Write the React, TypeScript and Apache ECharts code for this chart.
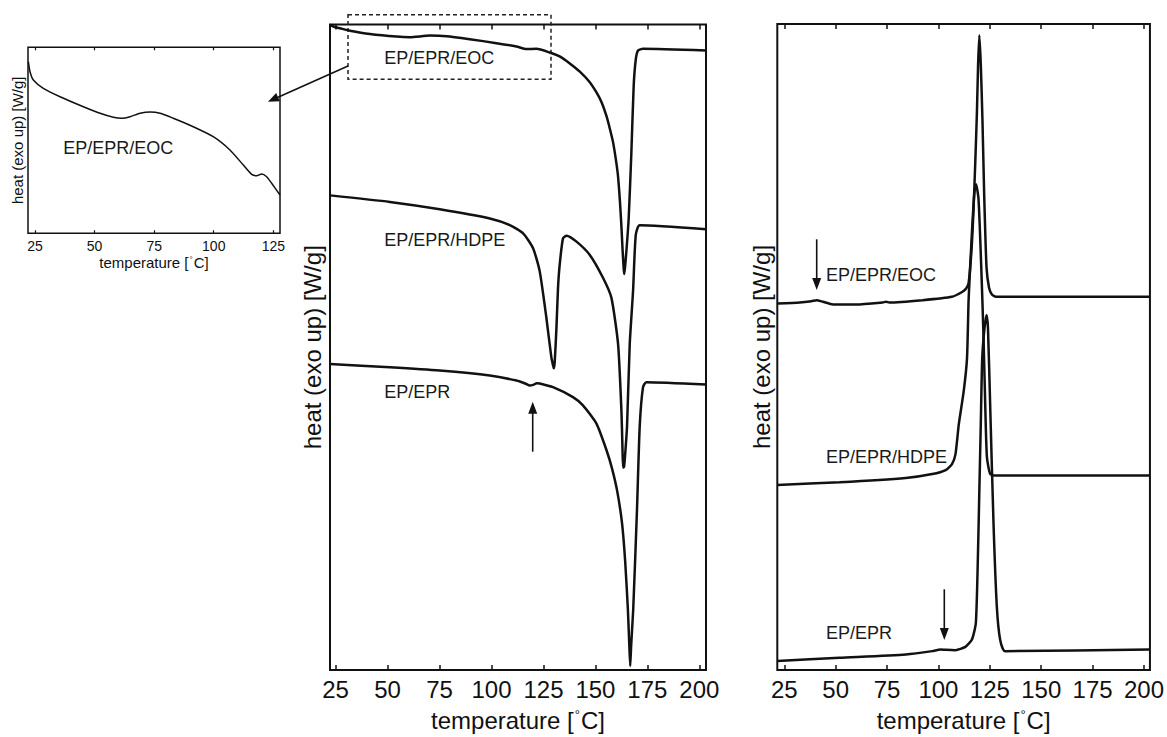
import React, { useEffect, useRef } from "react";
import * as echarts from "echarts";

const FONT = "'Liberation Sans', Arial, Helvetica, sans-serif";
const INK = "#111";

// ---------- tick labels ----------
const insetTicks = [25, 50, 75, 100, 125];
const mainTicks = [25, 50, 75, 100, 125, 150, 175, 200];

// ---------- inset: EP/EPR/EOC detail (heating) ----------
const insetT = [22.2, 22.9, 24.3, 28.5, 35.5, 45.3, 52.3, 57.9, 61.4, 64.9, 69.1, 73.3, 77.5, 83.0, 91.4, 99.8, 106.8, 112.4, 115.9, 118.0, 120.1, 122.2, 124.3, 127.8];
const insetV = [171.6, 161.6, 153.3, 145, 136.6, 126.6, 120, 116, 115, 116.6, 120, 121.3, 120, 115, 106.6, 96.6, 83.3, 68.3, 59, 57.6, 59.3, 56.6, 50, 38.3];

// ---------- middle panel: heating (melting) ----------
const midEocT = [22.3, 24.5, 27.1, 31.9, 41.5, 54.3, 60.7, 70.3, 78.4, 89.5, 102.4, 112.0, 116.8, 121.6, 128.0, 132.8, 137.5, 142.5, 147.0, 150.5, 153.0, 155.3, 157.0, 158.5, 160.0, 160.9, 161.8, 162.5, 163.1, 163.5, 163.8, 164.2, 164.9, 166.0, 167.3, 168.4, 169.4, 170.5, 172.9, 203.2];
const midEocV = [650, 648, 646.7, 644.3, 641, 638.3, 637.7, 639.3, 638.7, 635.7, 631.7, 628.3, 625.7, 626, 622.3, 618.3, 611.5, 603, 593, 582, 572, 558.3, 545, 531.7, 512, 497, 472, 447, 422, 408, 399, 405, 422, 455, 521.7, 588.3, 615, 624.3, 626, 624.2];

const midHdpeT = [22.3, 51.1, 75.1, 99.2, 108.8, 115.2, 120.0, 123.2, 126.4, 128.8, 129.6, 129.95, 130.4, 131.25, 132.0, 132.8, 134.4, 136.1, 140.9, 147.3, 153.7, 157.7, 160.9, 162.5, 163.0, 163.3, 163.8, 164.4, 165.2, 166.5, 168.1, 169.4, 171.3, 203.2];
const midHdpeV = [478.3, 471.7, 464.3, 455, 448.3, 440, 425, 401.7, 355, 315, 307, 304, 310, 345, 385, 408.3, 435, 437.7, 431.7, 418.3, 395, 375, 328.3, 261.7, 225, 204, 205, 220, 245, 328.3, 381.7, 438.3, 448.3, 444.2];

const midEprT = [22.3, 51.1, 75.1, 99.2, 112.0, 116.5, 118.4, 120.0, 121.8, 123.2, 129.6, 139.2, 144.0, 150.5, 155.3, 158.0, 160.5, 162.8, 164.3, 165.6, 166.3, 166.75, 167.2, 168.2, 170.0, 171.3, 172.9, 174.5, 203.2];
const midEprV = [308.3, 305, 301.7, 296.7, 291.7, 288.5, 286.7, 287.3, 289, 288.8, 285, 275, 266.7, 248.3, 221.7, 203, 180, 148, 110, 61.7, 25, 4, 25, 61.7, 161.7, 245, 285, 290, 287.6];

// ---------- right panel: cooling (crystallisation) ----------
const rEocT = [21.6, 32.6, 38.2, 40.7, 43.8, 48.7, 60.0, 72.8, 74.5, 76.1, 92.2, 106.6, 111.5, 113.5, 114.7, 116.0, 117.0, 117.9, 118.7, 119.3, 119.9, 120.6, 121.4, 122.3, 123.4, 124.6, 126.0, 128.0, 202.9];
const rEocV = [369, 370, 371.3, 372.3, 370.7, 368, 368, 370, 370.7, 370, 372.3, 375.7, 380.5, 384, 390, 420, 460, 510, 560, 610, 639, 610, 555, 475, 405, 385, 378, 375.7, 375.7];

const rHdpeT = [21.6, 51.9, 84.1, 97.0, 103.5, 106.6, 108.3, 109.9, 112.3, 113.9, 114.7, 116.3, 117.5, 118.3, 119.5, 120.8, 121.9, 122.8, 123.6, 125.2, 127.6, 202.9];
const rHdpeV = [186.3, 189, 193.3, 197.3, 201.3, 207.3, 217.3, 247.3, 280.7, 314, 374, 440.7, 480.7, 489, 474, 407.3, 338, 264, 214, 197.3, 195.7, 195.7];

const rEprT = [21.6, 51.9, 84.1, 97.0, 101.0, 103.5, 108.3, 113.1, 116.3, 118.2, 119.2, 119.9, 120.6, 121.3, 122.4, 123.4, 124.1, 125.2, 126.8, 128.4, 130.0, 132.4, 202.9];
const rEprV = [9, 12.3, 15.7, 19, 20.7, 20.3, 20, 23.3, 30.7, 47.3, 114, 180.7, 247.3, 314, 344, 357.3, 344, 264, 147.3, 64, 30.7, 19, 20.7];

const pairs = (t: number[], v: number[]) => t.map((x, i) => [x, v[i]]);

const txt = (text: string, x: number, y: number, size = 18) => ({
  type: "text",
  x,
  y,
  style: { text, fill: "#1a1a1a", font: `${size}px ${FONT}`, textVerticalAlign: "middle", textAlign: "left" },
  silent: true,
});

const vArrowUp = (x: number, yTail: number, yTip: number) => [
  { type: "line", shape: { x1: x, y1: yTail, x2: x, y2: yTip + 9 }, style: { stroke: INK, lineWidth: 1.6 } },
  { type: "polygon", shape: { points: [[x, yTip], [x - 4.5, yTip + 12], [x + 4.5, yTip + 12]] }, style: { fill: INK } },
];
const vArrowDown = (x: number, yTail: number, yTip: number) => [
  { type: "line", shape: { x1: x, y1: yTail, x2: x, y2: yTip - 9 }, style: { stroke: INK, lineWidth: 1.6 } },
  { type: "polygon", shape: { points: [[x, yTip], [x - 4.5, yTip - 12], [x + 4.5, yTip - 12]] }, style: { fill: INK } },
];

function xAxisPair(gridIndex: number, min: number, max: number, ticks: number[], fontSize: number, margin: number, tickLen: number, tickW: number, name: string, nameSize: number, nameGap: number) {
  const tick = { show: true, inside: true, length: tickLen, lineStyle: { color: INK, width: tickW }, customValues: ticks };
  return [
    {
      type: "value", gridIndex, min, max, position: "bottom",
      axisLine: { show: false }, axisTick: tick,
      axisLabel: { customValues: ticks, fontSize, color: INK, fontFamily: FONT, margin },
      splitLine: { show: false },
      name, nameLocation: "middle", nameGap,
      nameTextStyle: {
        fontSize: nameSize, fontFamily: FONT, color: INK,
        rich: { d: { fontSize: Math.round(nameSize * 0.55), fontFamily: FONT, color: INK, verticalAlign: "top", padding: [0, 1, 0, 1] } },
      },
    },
    {
      type: "value", gridIndex, min, max, position: "top",
      axisLine: { show: false }, axisTick: tick,
      axisLabel: { show: false }, splitLine: { show: false },
    },
  ];
}

function yAxisOf(gridIndex: number, max: number, nameSize: number, nameGap: number) {
  return {
    type: "value", gridIndex, min: 0, max,
    axisLine: { show: false }, axisTick: { show: false }, axisLabel: { show: false }, splitLine: { show: false },
    name: "heat (exo up) [W/g]", nameLocation: "middle", nameRotate: 90, nameGap,
    nameTextStyle: { fontSize: nameSize, fontFamily: FONT, color: INK },
  };
}

const lineSeries = (xAxisIndex: number, yAxisIndex: number, data: number[][], width: number) => ({
  type: "line", xAxisIndex, yAxisIndex, data, showSymbol: false, symbol: "none",
  smooth: 0.2, clip: true, lineStyle: { color: INK, width }, silent: true,
});

export default function App() {
  const ref = useRef<HTMLDivElement>(null);
  useEffect(() => {
    document.body.style.margin = "0";
    document.body.style.overflow = "hidden";
    const chart = echarts.init(ref.current!, null, { renderer: "svg" });
    const tempName = "temperature [{d|°}C]";
    const option: any = {
      animation: false,
      backgroundColor: "#fff",
      grid: [
        { left: 28, top: 47.3, width: 252, height: 186, show: true, borderColor: INK, borderWidth: 1.5, backgroundColor: "transparent" },
        { left: 330, top: 24.5, width: 376, height: 650.5, show: true, borderColor: INK, borderWidth: 2, backgroundColor: "transparent" },
        { left: 777.3, top: 24, width: 376, height: 650.3, show: true, borderColor: INK, borderWidth: 2, backgroundColor: "transparent" },
      ],
      xAxis: [
        ...xAxisPair(0, 22.06, 127.8, insetTicks, 14, 6, 3, 1.2, tempName, 15, 22),
        ...xAxisPair(1, 22.3, 203.2, mainTicks, 24, 7, 5, 1.5, tempName, 24, 38),
        ...xAxisPair(2, 21.6, 202.9, mainTicks, 24, 7, 5, 1.5, tempName, 24, 38),
      ],
      yAxis: [yAxisOf(0, 186, 15, 3), yAxisOf(1, 650.5, 24, 6), yAxisOf(2, 650.3, 24, 4)],
      series: [
        lineSeries(0, 0, pairs(insetT, insetV), 1.5),
        lineSeries(2, 1, pairs(midEocT, midEocV), 2.5),
        lineSeries(2, 1, pairs(midHdpeT, midHdpeV), 2.5),
        lineSeries(2, 1, pairs(midEprT, midEprV), 2.5),
        lineSeries(4, 2, pairs(rEocT, rEocV), 2.5),
        lineSeries(4, 2, pairs(rHdpeT, rHdpeV), 2.5),
        lineSeries(4, 2, pairs(rEprT, rEprV), 2.5),
      ],
      graphic: [
        txt("EP/EPR/EOC", 63.3, 148.3),
        txt("EP/EPR/EOC", 384.3, 58.3),
        txt("EP/EPR/HDPE", 384.3, 240),
        txt("EP/EPR", 384.3, 391.7),
        txt("EP/EPR/EOC", 826, 275),
        txt("EP/EPR/HDPE", 826, 456.7),
        txt("EP/EPR", 826, 633.3),
        { type: "rect", shape: { x: 348, y: 14.7, width: 203, height: 64.6 }, style: { fill: "none", stroke: "#222", lineWidth: 1.5, lineDash: [4, 3] } },
        { type: "line", shape: { x1: 348, y1: 66, x2: 278, y2: 97.2 }, style: { stroke: INK, lineWidth: 1.5 } },
        { type: "polygon", shape: { points: [[268, 101.7], [279.8, 101.3], [276.2, 93.1]] }, style: { fill: INK } },
        ...vArrowUp(532.7, 451.7, 401.7),
        ...vArrowDown(816.7, 239.3, 290),
        ...vArrowDown(944.3, 589.3, 640),
      ],
    };
    chart.setOption(option);
    return () => chart.dispose();
  }, []);
  return <div ref={ref} style={{ width: 1167, height: 737 }} />;
}
